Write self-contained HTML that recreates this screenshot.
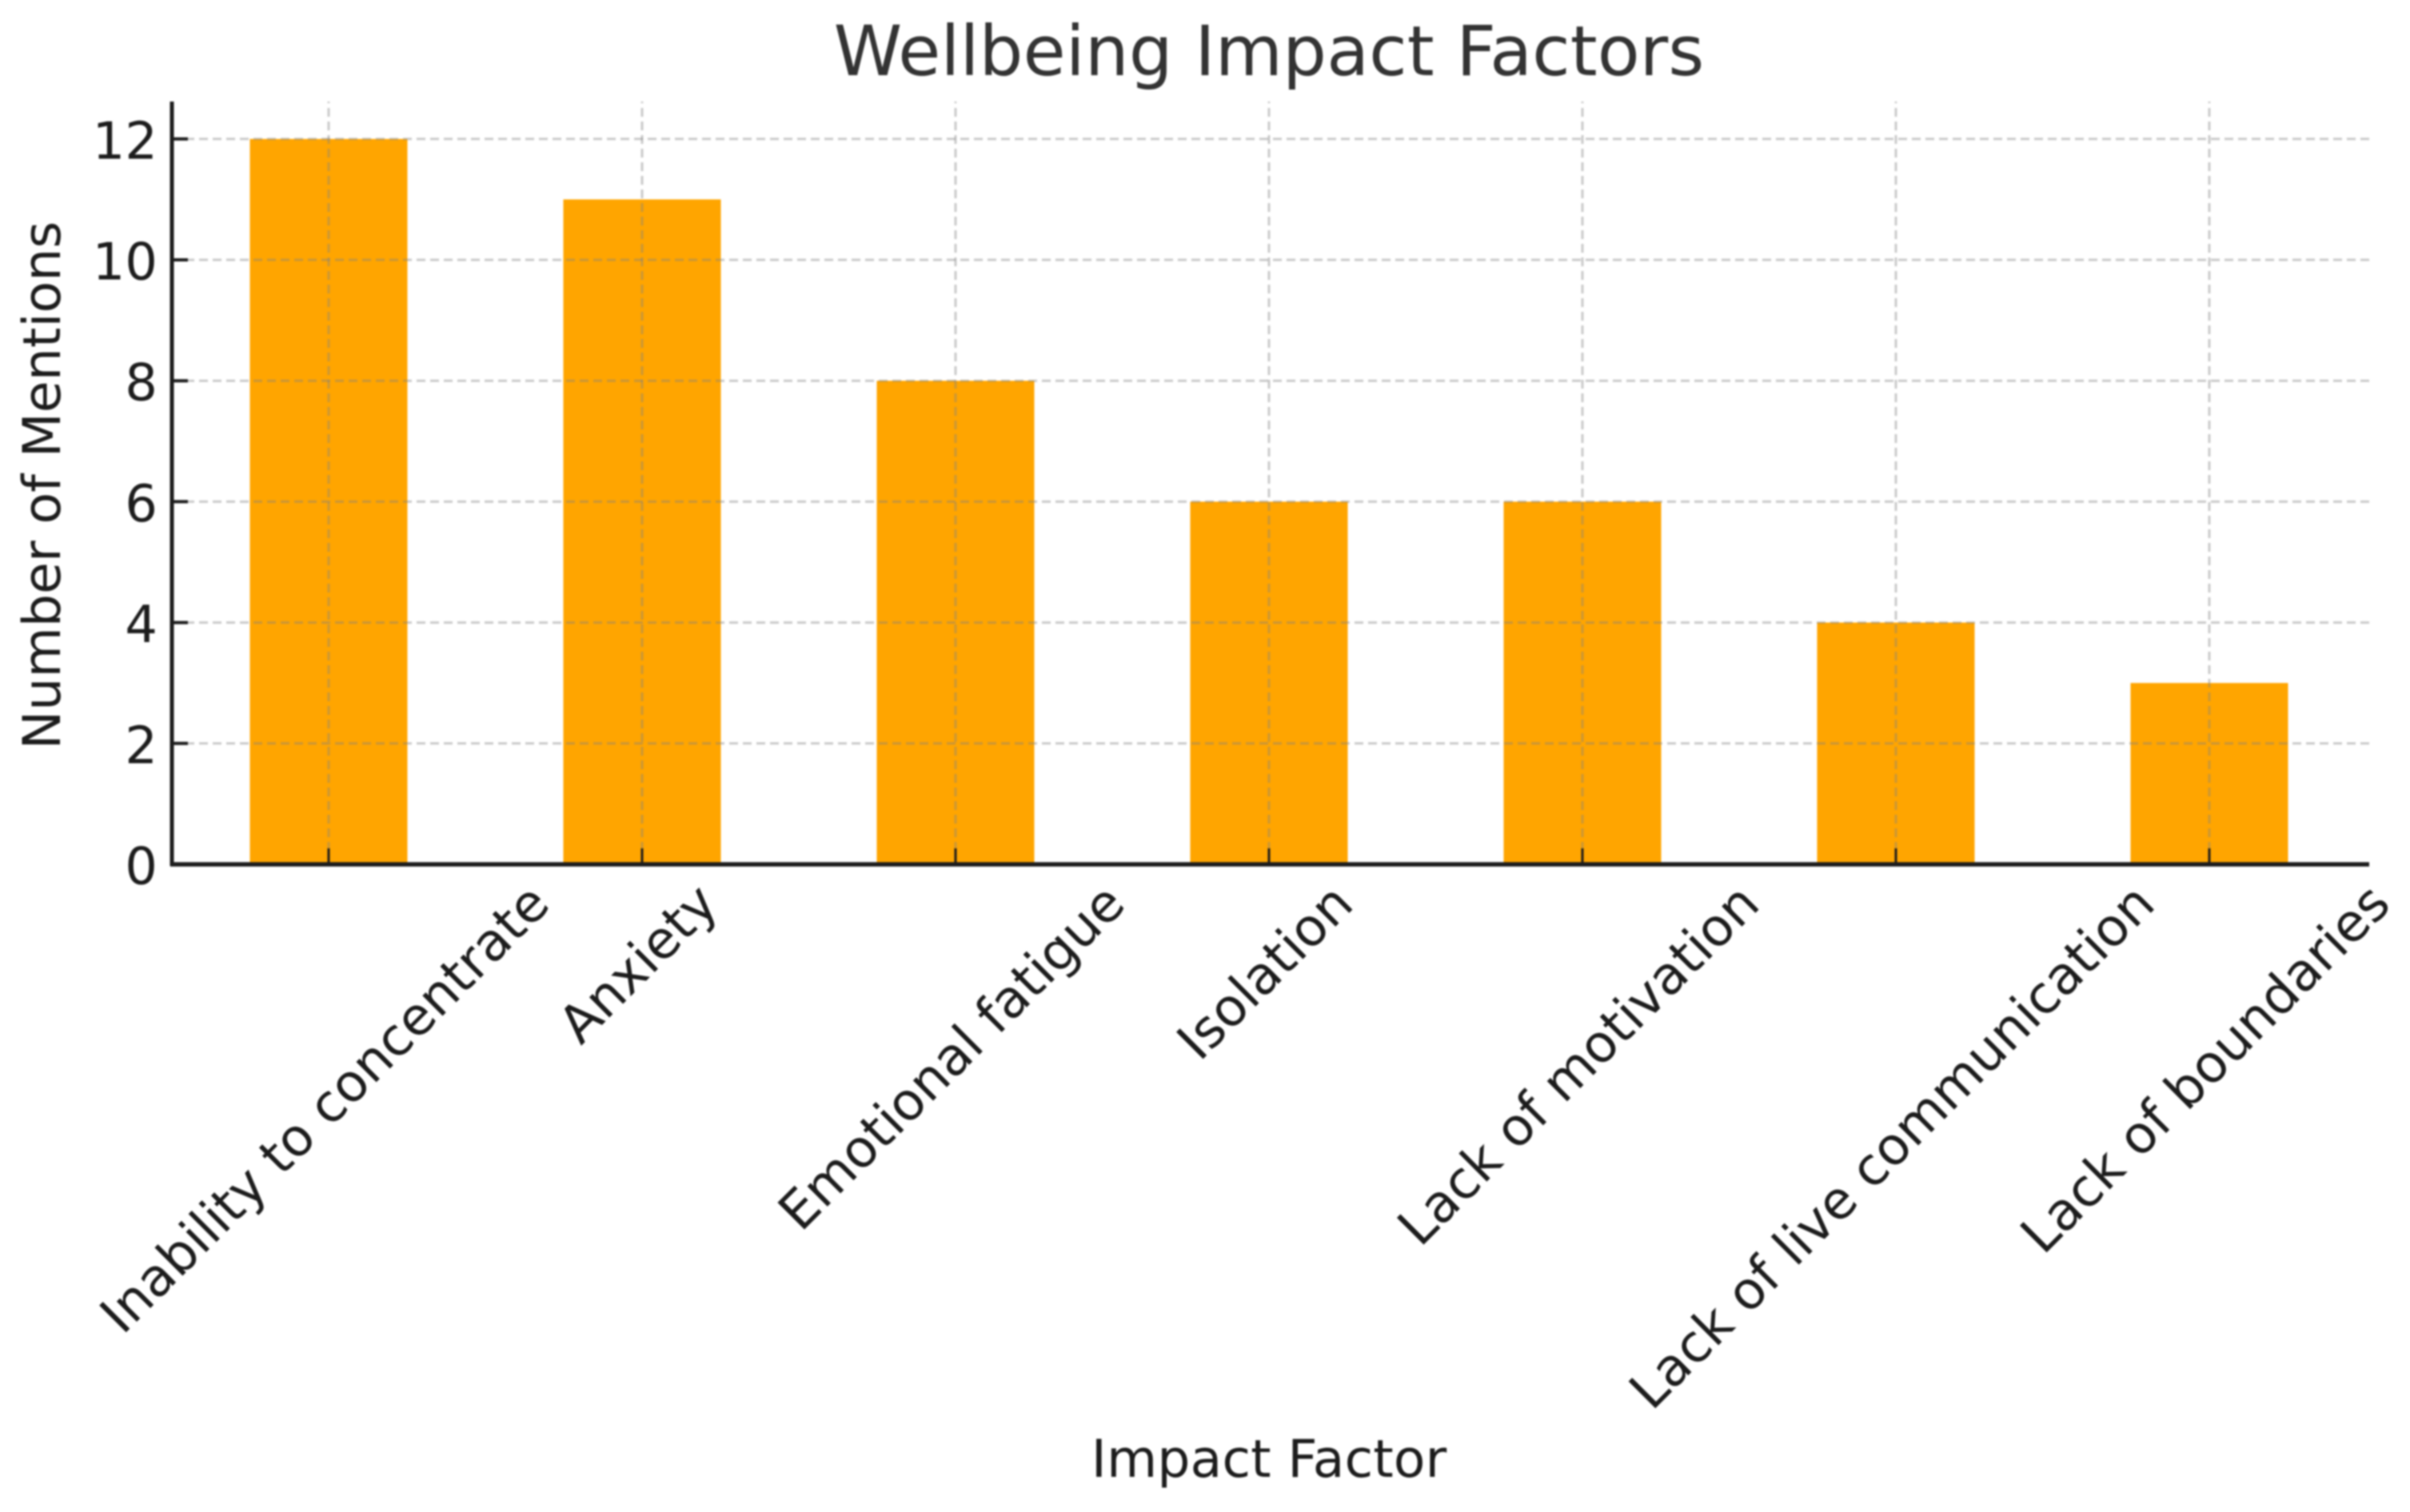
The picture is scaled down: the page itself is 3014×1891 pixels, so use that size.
<!DOCTYPE html>
<html>
<head>
<meta charset="utf-8">
<title>Wellbeing Impact Factors</title>
<style>
html,body{margin:0;padding:0;background:#fff;width:3014px;height:1891px;overflow:hidden}
svg{display:block;filter:blur(1.1px)}
text{font-family:"DejaVu Sans","Liberation Sans",sans-serif;fill:#1c1c1c}
</style>
</head>
<body>
<svg id="chart" xmlns="http://www.w3.org/2000/svg" width="3014" height="1891" viewBox="0 0 3014 1891">
<rect x="0" y="0" width="3014" height="1891" fill="#fff"/>
<g id="bars"></g>
<g id="grid"></g>
<g id="ticks"></g>
<line x1="215" y1="127" x2="215" y2="1083" stroke="#1c1c1c" stroke-width="5"/>
<line x1="213" y1="1081" x2="2963" y2="1081" stroke="#1c1c1c" stroke-width="5.5"/>
<g id="ylabels"></g>
<g id="xlabels"></g>
<text x="1587" y="94" text-anchor="middle" font-size="86.6" style="fill:#333">Wellbeing Impact Factors</text>
<text x="1587" y="1847" text-anchor="middle" font-size="65">Impact Factor</text>
<text transform="translate(75 607) rotate(-90)" text-anchor="middle" font-size="65">Number of Mentions</text>
</svg>
<script>
const categories = ["Inability to concentrate", "Anxiety", "Emotional fatigue", "Isolation", "Lack of motivation", "Lack of live communication", "Lack of boundaries"];
const mentions = [12, 11, 8, 6, 6, 4, 3];
const yTickValues = [0, 2, 4, 6, 8, 10, 12];

const NS = "http://www.w3.org/2000/svg";
const plotLeft = 215, plotRight = 2963, plotTop = 127, plotBottom = 1081;
const firstCenter = 411, bandStep = 392, barWidth = 197;
const yUnit = 75.6;
const xScale = function (i) { return firstCenter + bandStep * i; };
const yScale = function (v) { return plotBottom - yUnit * v; };

function make(tag, attrs, parent, content) {
  const el = document.createElementNS(NS, tag);
  Object.keys(attrs).forEach(function (k) { el.setAttribute(k, attrs[k]); });
  if (content !== undefined) el.textContent = content;
  parent.appendChild(el);
  return el;
}

const barsG = document.getElementById("bars");
const gridG = document.getElementById("grid");
const ticksG = document.getElementById("ticks");
const yLabG = document.getElementById("ylabels");
const xLabG = document.getElementById("xlabels");
const gridStyle = { stroke: "#808080", "stroke-opacity": "0.42", "stroke-width": "3", "stroke-dasharray": "11 6" };

mentions.forEach(function (v, i) {
  const bar = make("rect", { x: xScale(i) - barWidth / 2, y: yScale(v), width: barWidth, height: plotBottom - yScale(v), fill: "#FFA500" }, barsG);
  
  
});

categories.forEach(function (c, i) {
  const x = xScale(i);
  const g = make("line", Object.assign({ x1: x, y1: plotBottom, x2: x, y2: plotTop }, gridStyle), gridG);
  
  
  const t = make("line", { x1: x, y1: plotBottom, x2: x, y2: plotBottom - 20, stroke: "#1c1c1c", "stroke-width": "3" }, ticksG);
  
  
  const label = make("text", { "font-size": "65.2", "text-anchor": "middle" }, xLabG, c);
  
  
  const w = label.getComputedTextLength();
  const h = 65.2 * 0.95;
  const cy = 1096 + (w + h) * Math.SQRT1_2 / 2;
  label.setAttribute("transform", "translate(" + (x - 5) + " " + cy + ") rotate(-45) translate(0 " + (h * 0.36) + ")");
});

yTickValues.forEach(function (v) {
  const y = yScale(v);
  if (v > 0) {
    const g = make("line", Object.assign({ x1: plotLeft, y1: y, x2: plotRight, y2: y }, gridStyle), gridG);
    
    
  }
  const t = make("line", { x1: plotLeft, y1: y, x2: plotLeft + 20, y2: y, stroke: "#1c1c1c", "stroke-width": "4" }, ticksG);
  
  
  const label = make("text", { x: 197, y: y + 24.5, "font-size": "64", "text-anchor": "end" }, yLabG, String(v));
  
  
});
</script>
</body>
</html>
